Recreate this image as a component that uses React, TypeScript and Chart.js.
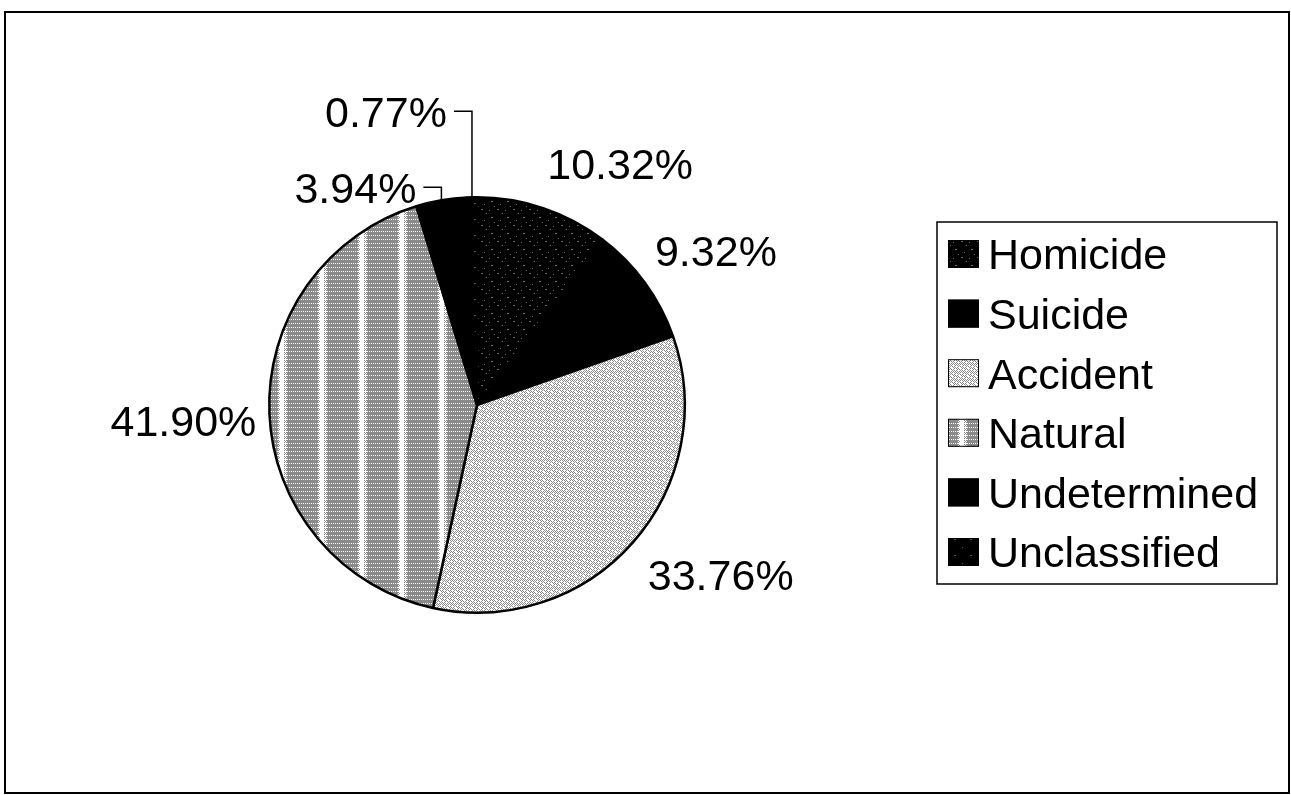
import React, { useEffect, useRef } from "react";
import { Chart, registerables } from "chart.js";

Chart.register(...registerables);

// ---- data ----
const categories = ["Homicide", "Suicide", "Accident", "Natural", "Undetermined", "Unclassified"];
const percentages = [10.32, 9.32, 33.76, 41.9, 3.94, 0.77];

// ---- label layout (offsets from each slice's outer mid-point) ----
const labelOffsets: [number, number][] = [
  [77, -44],
  [71, -32],
  [88, 32],
  [-86, 7],
  [-86, -13],
  [-86, -86],
];
const leaderLines = [false, false, false, false, true, true];

const FONT = "43px Arial, 'Liberation Sans', sans-serif";
const CAP_HALF = 15.4;

function makeTile(w: number, h: number, draw: (ctx: CanvasRenderingContext2D) => void): CanvasPattern | string {
  const c = document.createElement("canvas");
  c.width = w;
  c.height = h;
  const ctx = c.getContext("2d")!;
  draw(ctx);
  const p = ctx.createPattern(c, "repeat");
  return p || "#888";
}

function makePatterns() {
  const homicide = makeTile(16, 16, (ctx) => {
    ctx.fillStyle = "#000";
    ctx.fillRect(0, 0, 16, 16);
    ctx.fillStyle = "#6e6e6e";
    const pts = [[1, 1], [2, 1], [6, 5], [11, 9], [12, 9], [4, 12], [9, 2], [14, 14]];
    pts.forEach(([x, y]) => ctx.fillRect(x, y, 1, 1));
  });
  const suicide = "#000000";
  const accident = makeTile(8, 8, (ctx) => {
    ctx.fillStyle = "#ffffff";
    ctx.fillRect(0, 0, 8, 8);
    ctx.fillStyle = "#8e8e8e";
    for (let y = 0; y < 8; y++) {
      for (let x = 0; x < 8; x++) {
        if ((x + y) % 2 === 0 && !((x * 3 + y * 5) % 7 === 0)) ctx.fillRect(x, y, 1, 1);
      }
    }
  });
  const natural = makeTile(40, 4, (ctx) => {
    ctx.fillStyle = "#ffffff";
    ctx.fillRect(0, 0, 40, 4);
    for (let x = 0; x < 40; x++) {
      const inStripe = x < 4;
      const nearStripe = x < 7 || x > 37;
      for (let y = 0; y < 4; y++) {
        let gray = false;
        if (y === 0 || y === 1 || y === 2) gray = true;
        else gray = x % 2 === 0;
        if (inStripe) gray = false;
        if (nearStripe && (x + y) % 2 === 1) gray = false;
        if (gray) {
          ctx.fillStyle = "#8a8a8a";
          ctx.fillRect(x, y, 1, 1);
        }
      }
    }
  });
  const undetermined = "#000000";
  const unclassified = makeTile(16, 16, (ctx) => {
    ctx.fillStyle = "#000";
    ctx.fillRect(0, 0, 16, 16);
    ctx.fillStyle = "#5a5a5a";
    [[2, 3], [10, 11], [11, 11]].forEach(([x, y]) => ctx.fillRect(x, y, 1, 1));
  });
  return [homicide, suicide, accident, natural, undetermined, unclassified];
}

const framePlugin = {
  id: "frame",
  beforeDraw(chart: any) {
    const ctx = chart.ctx as CanvasRenderingContext2D;
    ctx.save();
    ctx.fillStyle = "#ffffff";
    ctx.fillRect(0, 0, chart.width, chart.height);
    ctx.strokeStyle = "#000";
    ctx.lineWidth = 2;
    ctx.strokeRect(5, 12, 1284, 781);
    ctx.restore();
  },
};

const labelPlugin = {
  id: "pctLabels",
  afterDatasetsDraw(chart: any) {
    const ctx = chart.ctx as CanvasRenderingContext2D;
    const meta = chart.getDatasetMeta(0);
    const values: number[] = chart.data.datasets[0].data;
    ctx.save();
    ctx.font = FONT;
    ctx.fillStyle = "#000";
    ctx.textAlign = "center";
    ctx.textBaseline = "alphabetic";
    meta.data.forEach((arc: any, i: number) => {
      const p = arc.getProps(["x", "y", "startAngle", "endAngle", "outerRadius"], true);
      const mid = (p.startAngle + p.endAngle) / 2;
      const ax = p.x + Math.cos(mid) * p.outerRadius;
      const ay = p.y + Math.sin(mid) * p.outerRadius;
      const lx = ax + labelOffsets[i][0];
      const ly = ay + labelOffsets[i][1];
      const text = values[i].toFixed(2) + "%";
      ctx.fillText(text, lx, ly + CAP_HALF);
      if (leaderLines[i]) {
        const w = ctx.measureText(text).width;
        ctx.beginPath();
        ctx.lineWidth = 1.5;
        ctx.strokeStyle = "#000";
        ctx.moveTo(ax, ay);
        ctx.lineTo(ax, ly);
        ctx.lineTo(lx + w / 2 + 7, ly);
        ctx.stroke();
      }
    });
    ctx.restore();
  },
};

const legendPlugin = {
  id: "boxLegend",
  afterDraw(chart: any) {
    const ctx = chart.ctx as CanvasRenderingContext2D;
    const labels: string[] = chart.data.labels;
    const fills = chart.data.datasets[0].backgroundColor;
    const left = 937, top = 222, right = 1277, bottom = 584;
    ctx.save();
    ctx.strokeStyle = "#000";
    ctx.lineWidth = 1.5;
    ctx.strokeRect(left, top, right - left, bottom - top);
    ctx.font = FONT;
    ctx.textAlign = "left";
    ctx.textBaseline = "alphabetic";
    labels.forEach((lab, i) => {
      const cy = top + 32 + i * 59.6;
      ctx.fillStyle = fills[i];
      ctx.fillRect(948, cy - 14, 31, 28);
      ctx.lineWidth = 1;
      ctx.strokeRect(948.5, cy - 13.5, 30, 27);
      ctx.fillStyle = "#000";
      ctx.fillText(lab, 988, cy + CAP_HALF);
    });
    ctx.restore();
  },
};

export default function App() {
  const ref = useRef<HTMLCanvasElement | null>(null);
  useEffect(() => {
    if (!ref.current) return;
    const patterns = makePatterns();
    const chart = new Chart(ref.current, {
      type: "pie",
      data: {
        labels: categories,
        datasets: [
          {
            data: percentages,
            backgroundColor: patterns as any,
            borderColor: "#000000",
            borderWidth: 2.5,
          },
        ],
      },
      options: {
        responsive: false,
        animation: false,
        devicePixelRatio: 1,
        layout: { padding: { left: 268, top: 196, right: 605, bottom: 181 } },
        plugins: {
          legend: { display: false },
          tooltip: { enabled: false },
        },
      },
      plugins: [framePlugin, labelPlugin, legendPlugin],
    });
    return () => chart.destroy();
  }, []);
  return (
    <div style={{ position: "fixed", left: 0, top: 0, width: 1291, height: 795, background: "#fff" }}>
      <canvas ref={ref} width={1291} height={795} style={{ display: "block" }} />
    </div>
  );
}
